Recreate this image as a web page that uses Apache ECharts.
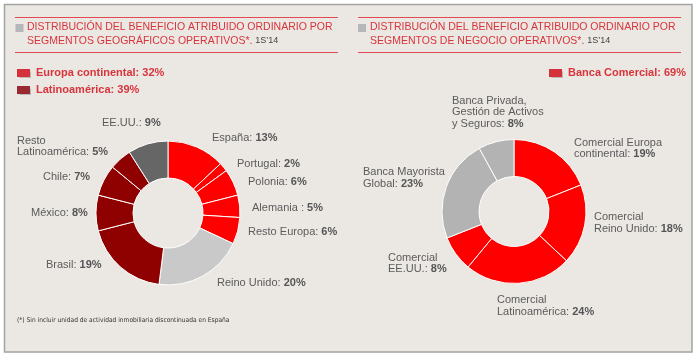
<!DOCTYPE html>
<html><head><meta charset="utf-8">
<script src="https://cdn.jsdelivr.net/npm/echarts@6/dist/echarts.min.js"></script>
<style>html,body{margin:0;padding:0;background:#fff}#c{width:695px;height:357px}</style>
</head><body><div id="c"></div>
<script>
// ---- data ----
const leftNames = ['España','Portugal','Polonia','Alemania ','Resto Europa','Reino Unido','Brasil','México','Chile','Resto\nLatinoamérica','EE.UU.'];
const leftValues = [13,2,6,5,6,20,19,8,7,5,9];
const rightNames = ['Comercial Europa\ncontinental','Comercial\nReino Unido','Comercial\nLatinoamérica','Comercial\nEE.UU.','Banca Mayorista\nGlobal','Banca Privada,\nGestión de Activos\ny Seguros'];
const rightValues = [19,18,24,8,23,8];
const leftGroupNames = ['Europa continental','Latinoamérica'];
const leftGroupValues = [32,39];
const rightGroupNames = ['Banca Comercial'];
const rightGroupValues = [69];
const leftTitle = 'DISTRIBUCIÓN DEL BENEFICIO ATRIBUIDO ORDINARIO POR\nSEGMENTOS GEOGRÁFICOS OPERATIVOS*. ';
const rightTitle = 'DISTRIBUCIÓN DEL BENEFICIO ATRIBUIDO ORDINARIO POR\nSEGMENTOS DE NEGOCIO OPERATIVOS*. ';
const periodLabel = '1S’14';
const footnote = '(*) Sin incluir unidad de actividad inmobiliaria discontinuada en España';

// ---- styles ----
const RED = '#ff0000', DARK = '#8f0000', UKGRAY = '#c9c9c9', USGRAY = '#666666', RGRAY = '#b3b3b3';
const leftColors = [RED,RED,RED,RED,RED,UKGRAY,DARK,DARK,DARK,DARK,USGRAY];
const rightColors = [RED,RED,RED,RED,RGRAY,RGRAY];
const leftGroupColors = ['#d3323a','#9a2a31'];
const rightGroupColors = ['#d3323a'];
const TITLE_RED = '#d8343b';
const FONT = '"Liberation Sans", Arial, sans-serif';
// label anchor positions (left edge, vertical middle)
const leftLabelPos = [[212,138],[237,164],[248,182],[252,208],[248,232],[217,283],[46,265],[31,213],[43,177],[17,146.5],[102,123]];
const rightLabelPos = [[574,148.5],[594,223],[497,306],[388,263.5],[363,178],[452,112]];

const chart = echarts.init(document.getElementById('c'), null, {renderer:'canvas'});

const labelRich = {
  n:{fontFamily:FONT,fontSize:11,color:'#5b5b5b',lineHeight:11.5},
  v:{fontFamily:FONT,fontSize:11,color:'#555',fontWeight:'bold',lineHeight:11.5}
};
function pieSeries(names, values, colors, center, pos){
  return {
    type:'pie', center:center, radius:[35,72], startAngle:90, clockwise:true,
    avoidLabelOverlap:false, silent:true,
    data: names.map((n,i)=>({name:n,value:values[i],itemStyle:{color:colors[i]}})),
    itemStyle:{borderColor:'#ffffff',borderWidth:1},
    label:{show:true,position:'outside',formatter:p=>'{n|'+p.name+': }{v|'+p.value+'%}',rich:labelRich},
    labelLine:{show:false},
    labelLayout:p=>({x:pos[p.dataIndex][0],y:pos[p.dataIndex][1],align:'left',verticalAlign:'middle'})
  };
}

function legendGraphics(names, values, colors, x0, y0){
  const g=[];
  names.forEach((n,i)=>{
    const y=y0+i*17;
    g.push({type:'rect',shape:{x:x0,y:y-4,width:13,height:8},style:{fill:colors[i],shadowColor:'rgba(0,0,0,0.2)',shadowBlur:1,shadowOffsetX:0.5,shadowOffsetY:0.5}});
    g.push({type:'text',x:x0+19,y:y,style:{text:n+': '+values[i]+'%',font:'bold 11px '+FONT,fill:TITLE_RED,textVerticalAlign:'middle'}});
  });
  return g;
}

const titleRich = {s:{fontFamily:FONT,fontSize:9,color:'#444',lineHeight:14}};
const titleStyle = {fontFamily:FONT,fontSize:10.5,fontWeight:'normal',color:TITLE_RED,lineHeight:14,rich:titleRich};
chart.setOption({
  animation:false,
  backgroundColor:'#ffffff',
  title:[
    {text:leftTitle+'{s|'+periodLabel+'}',left:27,top:20,padding:0,textStyle:titleStyle},
    {text:rightTitle+'{s|'+periodLabel+'}',left:370,top:20,padding:0,textStyle:titleStyle}
  ],
  graphic:[
    {type:'rect',z:-10,shape:{x:4.5,y:4.5,width:687.5,height:347.5},style:{fill:'#ebe8e4',stroke:'#a3a3a3',lineWidth:1.5}},
    {type:'line',shape:{x1:15,y1:17.5,x2:338,y2:17.5},style:{stroke:'#e04a50',lineWidth:1}},
    {type:'line',shape:{x1:15,y1:52.5,x2:338,y2:52.5},style:{stroke:'#e04a50',lineWidth:1}},
    {type:'line',shape:{x1:358,y1:17.5,x2:681,y2:17.5},style:{stroke:'#e04a50',lineWidth:1}},
    {type:'line',shape:{x1:358,y1:52.5,x2:681,y2:52.5},style:{stroke:'#e04a50',lineWidth:1}},
    {type:'rect',shape:{x:15.5,y:24,width:8,height:8},style:{fill:'#b5b7ba'}},
    {type:'rect',shape:{x:358,y:24,width:8,height:8},style:{fill:'#b5b7ba'}},
    ...legendGraphics(leftGroupNames,leftGroupValues,leftGroupColors,17,73),
    ...legendGraphics(rightGroupNames,rightGroupValues,rightGroupColors,549,73),
    {type:'text',x:17,y:320.5,style:{text:footnote,font:'6.6px "Liberation Sans Narrow", "DejaVu Sans Condensed", sans-serif',fill:'#333',textVerticalAlign:'middle'}}
  ],
  series:[
    pieSeries(leftNames,leftValues,leftColors,[168,213],leftLabelPos),
    pieSeries(rightNames,rightValues,rightColors,[514,211.5],rightLabelPos)
  ]
});
</script></body></html>
